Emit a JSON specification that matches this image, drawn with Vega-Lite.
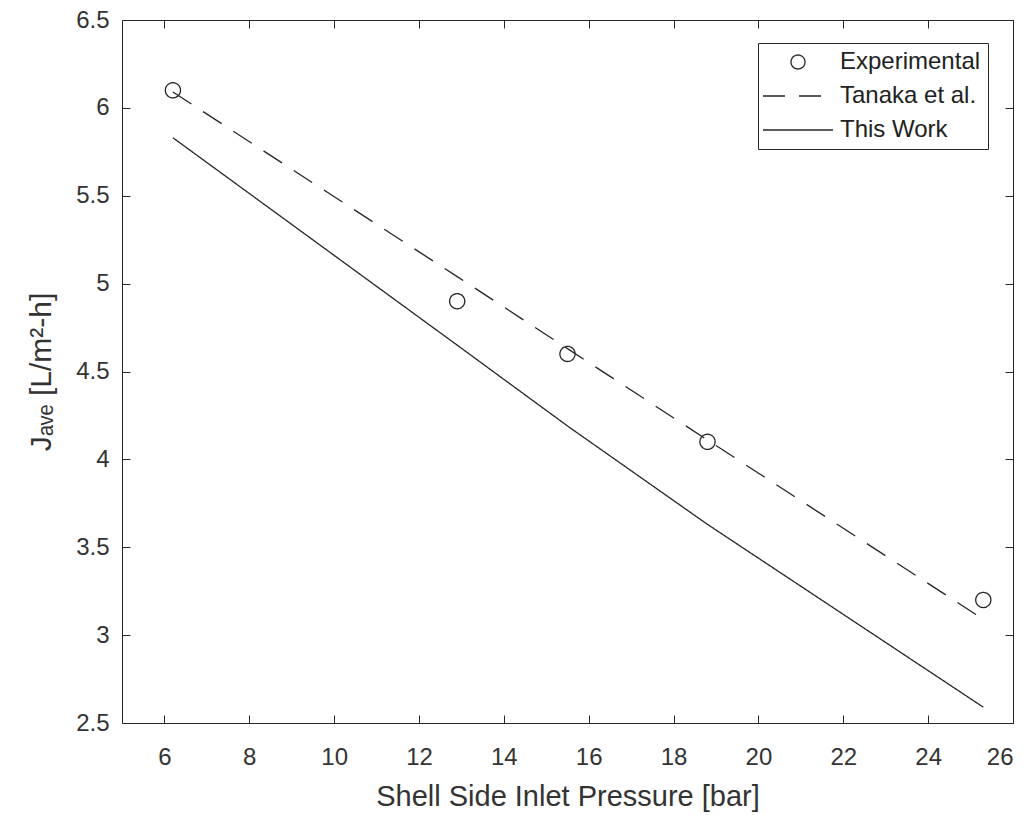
{
  "$schema": "https://vega.github.io/schema/vega-lite/v6.json",
  "width": 891,
  "height": 703,
  "autosize": "none",
  "padding": {"left": 122, "top": 20, "right": 22, "bottom": 92},
  "background": "white",
  "config": {
    "view": {"stroke": null},
    "font": "Liberation Sans",
    "axis": {
      "grid": false,
      "domainColor": "#262626",
      "domainWidth": 1,
      "tickColor": "#262626",
      "tickSize": -8,
      "tickWidth": 1,
      "labelFont": "Liberation Sans",
      "labelFontSize": 24,
      "labelColor": "#333333",
      "titleFont": "Liberation Sans",
      "titleFontSize": 29,
      "titleFontWeight": "normal",
      "titleColor": "#333333"
    },
    "legend": {
      "strokeColor": "#262626",
      "fillColor": "white",
      "padding": 7,
      "labelFont": "Liberation Sans",
      "labelFontSize": 24,
      "labelColor": "#222222",
      "symbolSize": 196,
      "symbolStrokeWidth": 1.3,
      "symbolStrokeColor": "#262626",
      "symbolFillColor": "transparent",
      "symbolOffset": 21,
      "rowPadding": 10,
      "labelOffset": 30
    }
  },
  "datasets": {
    "exp": [
      {"p": 6.2, "j": 6.1, "series": "Experimental"},
      {"p": 12.9, "j": 4.9, "series": "Experimental"},
      {"p": 15.5, "j": 4.6, "series": "Experimental"},
      {"p": 18.8, "j": 4.1, "series": "Experimental"},
      {"p": 25.3, "j": 3.2, "series": "Experimental"}
    ],
    "lines": [
      {"p": 6.2, "j": 6.09, "series": "Tanaka et al."},
      {"p": 12.9, "j": 5.04, "series": "Tanaka et al."},
      {"p": 15.5, "j": 4.63, "series": "Tanaka et al."},
      {"p": 18.8, "j": 4.11, "series": "Tanaka et al."},
      {"p": 25.3, "j": 3.09, "series": "Tanaka et al."},
      {"p": 6.2, "j": 5.83, "series": "This Work"},
      {"p": 12.9, "j": 4.65, "series": "This Work"},
      {"p": 15.5, "j": 4.19, "series": "This Work"},
      {"p": 18.8, "j": 3.63, "series": "This Work"},
      {"p": 25.3, "j": 2.59, "series": "This Work"}
    ]
  },
  "layer": [
    {
      "data": {"name": "lines"},
      "mark": {"type": "line", "color": "#262626", "strokeWidth": 1.3},
      "encoding": {
        "x": {
          "field": "p", "type": "quantitative",
          "scale": {"domain": [5, 26], "nice": false, "zero": false},
          "axis": {
            "orient": "bottom",
            "values": [6, 8, 10, 12, 14, 16, 18, 20, 22, 24, 26],
            "format": "~g",
            "labelPadding": 30,
            "title": "Shell Side Inlet Pressure [bar]",
            "titleBaseline": "alphabetic",
            "titleY": 82
          }
        },
        "y": {
          "field": "j", "type": "quantitative",
          "scale": {"domain": [2.5, 6.5], "nice": false, "zero": false},
          "axis": {
            "orient": "left",
            "values": [2.5, 3, 3.5, 4, 4.5, 5, 5.5, 6, 6.5],
            "format": "~g",
            "labelPadding": 21,
            "title": "Jₐᵥₑ [L/m²-h]",
            "titleFontSize": 30,
            "titleBaseline": "alphabetic",
            "titleX": -72
          }
        },
        "detail": {"field": "series"},
        "strokeDash": {
          "field": "series", "type": "nominal",
          "scale": {
            "domain": ["Experimental", "Tanaka et al.", "This Work"],
            "range": [[1, 0], [22, 14], [1, 0]]
          },
          "legend": {"title": null, "orient": "none", "legendX": 636, "legendY": 23}
        }
      }
    },
    {
      "data": {"name": "exp"},
      "mark": {"type": "point", "filled": false, "color": "#262626", "strokeWidth": 1.3, "size": 230, "opacity": 1},
      "encoding": {
        "x": {
          "field": "p", "type": "quantitative",
          "scale": {"domain": [5, 26], "nice": false, "zero": false},
          "axis": {"orient": "top", "values": [6, 8, 10, 12, 14, 16, 18, 20, 22, 24, 26], "labels": false, "title": null}
        },
        "y": {
          "field": "j", "type": "quantitative",
          "scale": {"domain": [2.5, 6.5], "nice": false, "zero": false},
          "axis": {"orient": "right", "values": [2.5, 3, 3.5, 4, 4.5, 5, 5.5, 6, 6.5], "labels": false, "title": null}
        },
        "shape": {
          "field": "series", "type": "nominal",
          "scale": {
            "domain": ["Experimental", "Tanaka et al.", "This Work"],
            "range": ["circle", "M-5,0H5", "M-5,0H5"]
          },
          "legend": {"title": null, "orient": "none", "legendX": 636, "legendY": 23}
        },
        "strokeDash": {
          "field": "series", "type": "nominal",
          "scale": {
            "domain": ["Experimental", "Tanaka et al.", "This Work"],
            "range": [[1, 0], [22, 14], [1, 0]]
          },
          "legend": {"title": null, "orient": "none", "legendX": 636, "legendY": 23}
        }
      }
    }
  ],
  "resolve": {"axis": {"x": "independent", "y": "independent"}}
}
